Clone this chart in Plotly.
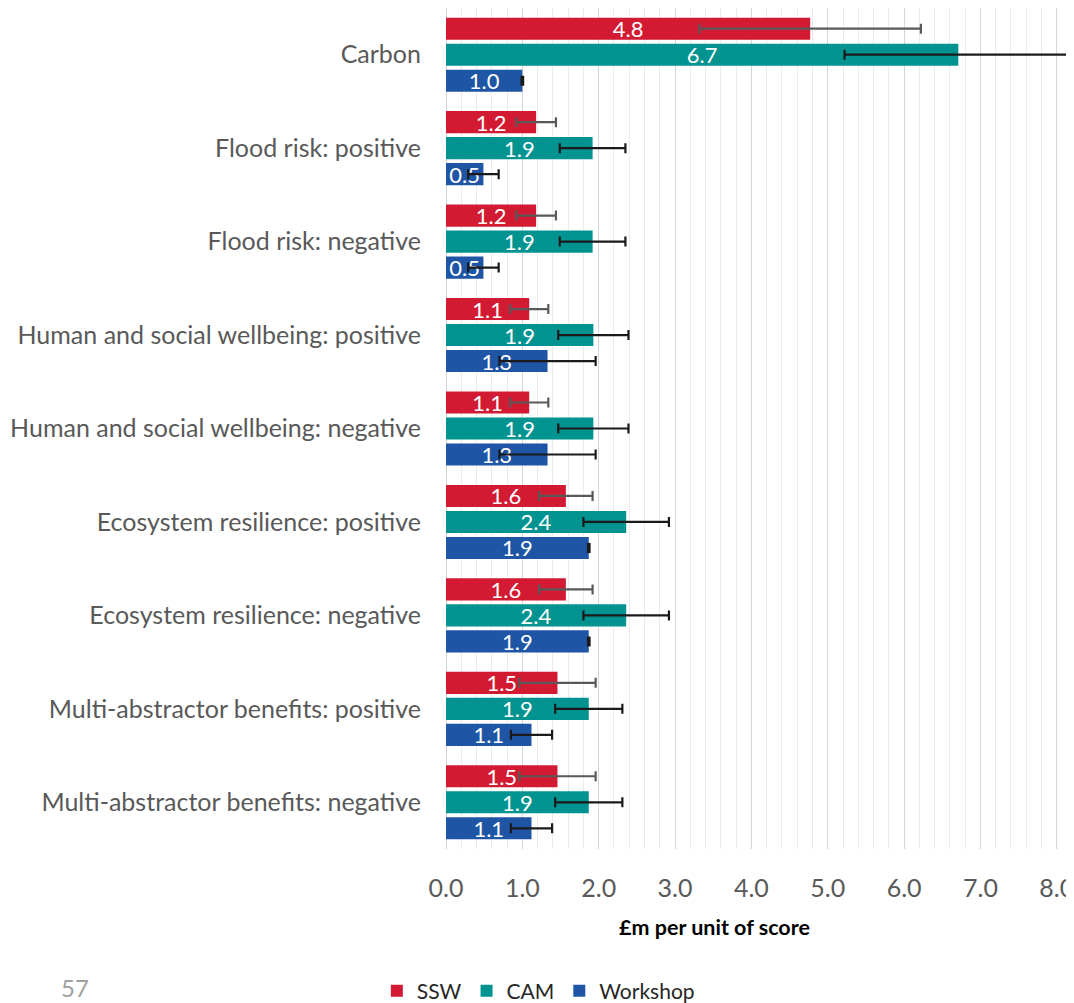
import plotly.graph_objects as go

categories = [
    "Carbon",
    "Flood risk: positive",
    "Flood risk: negative",
    "Human and social wellbeing: positive",
    "Human and social wellbeing: negative",
    "Ecosystem resilience: positive",
    "Ecosystem resilience: negative",
    "Multi-abstractor benefits: positive",
    "Multi-abstractor benefits: negative",
]
ssw = [4.77, 1.18, 1.18, 1.09, 1.09, 1.57, 1.57, 1.46, 1.46]
ssw_err = [1.45, 0.26, 0.26, 0.25, 0.25, 0.35, 0.35, 0.50, 0.50]
cam = [6.71, 1.92, 1.92, 1.93, 1.93, 2.36, 2.36, 1.87, 1.87]
cam_err = [1.49, 0.43, 0.43, 0.46, 0.46, 0.56, 0.56, 0.44, 0.44]
workshop = [1.00, 0.49, 0.49, 1.33, 1.33, 1.87, 1.87, 1.12, 1.12]
workshop_err = [0.01, 0.20, 0.20, 0.63, 0.63, 0.01, 0.01, 0.27, 0.27]

series = [
    ("SSW", ssw, ssw_err, "#D21A32", "#595959"),
    ("CAM", cam, cam_err, "#009390", "#1a1a1a"),
    ("Workshop", workshop, workshop_err, "#1E55A4", "#1a1a1a"),
]

FONT = "Lato, Open Sans, sans-serif"

fig = go.Figure()
for name, vals, errs, color, ecolor in series:
    fig.add_trace(go.Bar(
        name=name,
        y=categories,
        x=vals,
        orientation="h",
        marker=dict(color=color, line=dict(width=0)),
        error_x=dict(type="data", array=errs, visible=True, color=ecolor,
                     thickness=2.2, width=5),
        text=vals,
        texttemplate="%{x:.1f}",
        textposition="inside",
        insidetextanchor="middle",
        textfont=dict(color="white", size=22, family=FONT),
        cliponaxis=True,
    ))

# page body has an 8px margin: figure drawn at (8, 8)
fig.update_layout(
    width=1066,
    height=995,
    margin=dict(l=438, r=0, t=0, b=154),
    paper_bgcolor="white",
    plot_bgcolor="white",
    barmode="group",
    bargap=0.165,
    bargroupgap=0.15,
    uniformtext=dict(minsize=22, mode="show"),
    font=dict(family=FONT, color="#595959"),
    showlegend=True,
    legend=dict(
        orientation="h",
        xref="container", yref="container",
        x=0.346, y=0.012, xanchor="left", yanchor="middle",
        font=dict(size=21, color="#262626", family=FONT),
        traceorder="normal",
        itemwidth=30,
        tracegroupgap=0,
    ),
    xaxis=dict(
        range=[0, 8.16],
        dtick=1,
        tickformat=".1f",
        showgrid=True,
        gridcolor="#d6d6d6",
        gridwidth=1.3,
        minor=dict(dtick=0.2, showgrid=True, gridcolor="#ebebeb", gridwidth=1),
        zeroline=True,
        zerolinecolor="#d6d6d6",
        zerolinewidth=1.3,
        ticks="",
        ticklabelstandoff=22,
        ticklabeloverflow="allow",
        tickfont=dict(size=25, color="#595959", family=FONT),
        fixedrange=True,
    ),
    yaxis=dict(
        autorange="reversed",
        type="category",
        showgrid=False,
        ticks="",
        ticklabelstandoff=24,
        tickfont=dict(size=25, color="#595959", family=FONT),
    ),
    annotations=[
        dict(text="<b>£m per unit of score</b>", xref="paper", yref="paper",
             x=0.4315, y=-0.0927, showarrow=False, xanchor="center", yanchor="middle",
             font=dict(size=21.5, color="#000000", family=FONT)),
        dict(text="57", xref="paper", yref="paper",
             x=-0.5955, y=-0.165, showarrow=False, xanchor="center", yanchor="middle",
             font=dict(size=24, color="#a0a0a0", family=FONT)),
    ],
)

fig.write_html("out.html")
